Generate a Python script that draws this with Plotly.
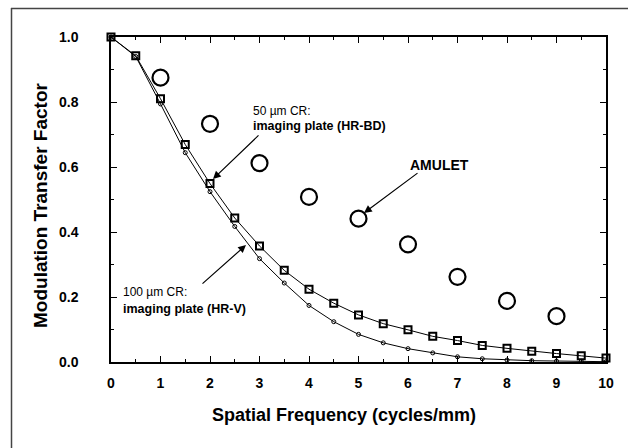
import plotly.graph_objects as go

freq = [0, 0.5, 1, 1.5, 2, 2.5, 3, 3.5, 4, 4.5, 5, 5.5, 6, 6.5, 7, 7.5, 8, 8.5, 9, 9.5, 10]
mtf_hr_bd = [1.0, 0.942, 0.81, 0.669, 0.549, 0.443, 0.357, 0.282, 0.224, 0.181, 0.145,
             0.118, 0.099, 0.079, 0.066, 0.051, 0.042, 0.033, 0.026, 0.019, 0.012]
mtf_hr_v = [1.0, 0.94, 0.794, 0.644, 0.524, 0.417, 0.318, 0.243, 0.174, 0.124, 0.085,
            0.059, 0.041, 0.028, 0.016, 0.010, 0.006, 0.004, 0.003, 0.002, 0.001]
amulet_freq = [1, 2, 3, 4, 5, 6, 7, 8, 9]
mtf_amulet = [0.875, 0.733, 0.612, 0.508, 0.441, 0.362, 0.262, 0.188, 0.141]

x_ticks = list(range(0, 11))
y_ticks = [0.0, 0.2, 0.4, 0.6, 0.8, 1.0]
y_tick_text = ["0.0", "0.2", "0.4", "0.6", "0.8", "1.0"]

FONT = "Liberation Sans, Arial, sans-serif"

fig = go.Figure()
fig.add_trace(go.Scatter(
    x=freq, y=mtf_hr_v, mode="lines+markers",
    line=dict(color="black", width=1),
    marker=dict(symbol="circle-open", size=4, color="black", line=dict(width=1)),
    cliponaxis=False, showlegend=False))
fig.add_trace(go.Scatter(
    x=freq, y=mtf_hr_bd, mode="lines+markers",
    line=dict(color="black", width=1),
    marker=dict(symbol="square-open", size=7, color="black", line=dict(width=2)),
    cliponaxis=False, showlegend=False))
fig.add_trace(go.Scatter(
    x=amulet_freq, y=mtf_amulet, mode="markers",
    marker=dict(symbol="circle-open", size=16, color="black", line=dict(width=2.2)),
    cliponaxis=False, showlegend=False))

L, R, T, B = 111, 606, 37, 362
W, H = 628, 448


def dx(px):
    return (px - L) / (R - L) * 10


def dy(py):
    return (B - py) / (B - T)


def px_paper(px):
    return (px - L) / (R - L)


def py_paper(py):
    return (B - py) / (B - T)


ann = []
ann.append(dict(x=dx(251), y=dy(111), xref="x", yref="y", text="50 µm CR:",
                showarrow=False, xanchor="left", yanchor="middle",
                font=dict(family=FONT, size=12, color="black")))
ann.append(dict(x=dx(251), y=dy(126), xref="x", yref="y", text="<b>imaging plate (HR-BD)</b>",
                showarrow=False, xanchor="left", yanchor="middle",
                font=dict(family=FONT, size=12.5, color="black")))
ann.append(dict(x=dx(121), y=dy(292), xref="x", yref="y", text="100 µm CR:",
                showarrow=False, xanchor="left", yanchor="middle",
                font=dict(family=FONT, size=12, color="black")))
ann.append(dict(x=dx(121), y=dy(309), xref="x", yref="y", text="<b>imaging plate (HR-V)</b>",
                showarrow=False, xanchor="left", yanchor="middle",
                font=dict(family=FONT, size=12.5, color="black")))
ann.append(dict(x=dx(439), y=dy(165), xref="x", yref="y", text="<b>AMULET</b>",
                showarrow=False, xanchor="center", yanchor="middle",
                font=dict(family=FONT, size=14, color="black")))
# arrows
for (tx, ty, hx, hy) in [(260, 134, 213, 179), (419, 172, 364, 213), (201, 285, 246, 245)]:
    ann.append(dict(x=dx(hx), y=dy(hy), ax=dx(tx), ay=dy(ty), xref="x", yref="y",
                    axref="x", ayref="y", text="", showarrow=True, arrowhead=2,
                    arrowsize=1.3, arrowwidth=1.2, arrowcolor="black", standoff=0))
# axis titles
ann.append(dict(x=px_paper(344), y=py_paper(415), xref="paper", yref="paper",
                text="<b>Spatial Frequency (cycles/mm)</b>", showarrow=False,
                xanchor="center", yanchor="middle",
                font=dict(family=FONT, size=18, color="black")))
ann.append(dict(x=px_paper(40), y=py_paper(205), xref="paper", yref="paper",
                text="<b>Modulation Transfer Factor</b>", showarrow=False, textangle=-90,
                xanchor="center", yanchor="middle",
                font=dict(family=FONT, size=19, color="black")))

fig.update_layout(
    width=W, height=H,
    margin=dict(l=L, r=W - R, t=T, b=H - B),
    paper_bgcolor="white", plot_bgcolor="white",
    font=dict(family=FONT, color="black"),
    annotations=ann,
    shapes=[
        dict(type="line", xref="paper", yref="paper",
             x0=px_paper(11), x1=px_paper(W),
             y0=py_paper(8.5), y1=py_paper(8.5),
             line=dict(color="#444", width=1.5)),
        dict(type="line", xref="paper", yref="paper",
             x0=px_paper(11.5), x1=px_paper(11.5),
             y0=py_paper(8), y1=py_paper(H),
             line=dict(color="#444", width=1.5)),
    ],
)

fig.update_xaxes(
    range=[0, 10], tickvals=x_ticks, ticktext=[f"<b>{v}</b>" for v in x_ticks],
    ticks="inside", ticklen=6, tickwidth=1, tickcolor="black",
    minor=dict(dtick=0.5, tick0=0, ticks="inside", ticklen=3, tickcolor="black"),
    showline=True, linecolor="black", linewidth=1.5, mirror="allticks",
    showgrid=False, zeroline=False,
    tickfont=dict(family=FONT, size=14, color="black"),
    ticklabelstandoff=7,
)
fig.update_yaxes(
    range=[0, 1], tickvals=y_ticks, ticktext=[f"<b>{t}</b>" for t in y_tick_text],
    ticks="inside", ticklen=6, tickwidth=1, tickcolor="black",
    minor=dict(dtick=0.1, tick0=0, ticks="inside", ticklen=3, tickcolor="black"),
    showline=True, linecolor="black", linewidth=1.5, mirror="allticks",
    showgrid=False, zeroline=False,
    tickfont=dict(family=FONT, size=14, color="black"),
    ticklabelstandoff=28,
)

fig.write_html("out.html")
